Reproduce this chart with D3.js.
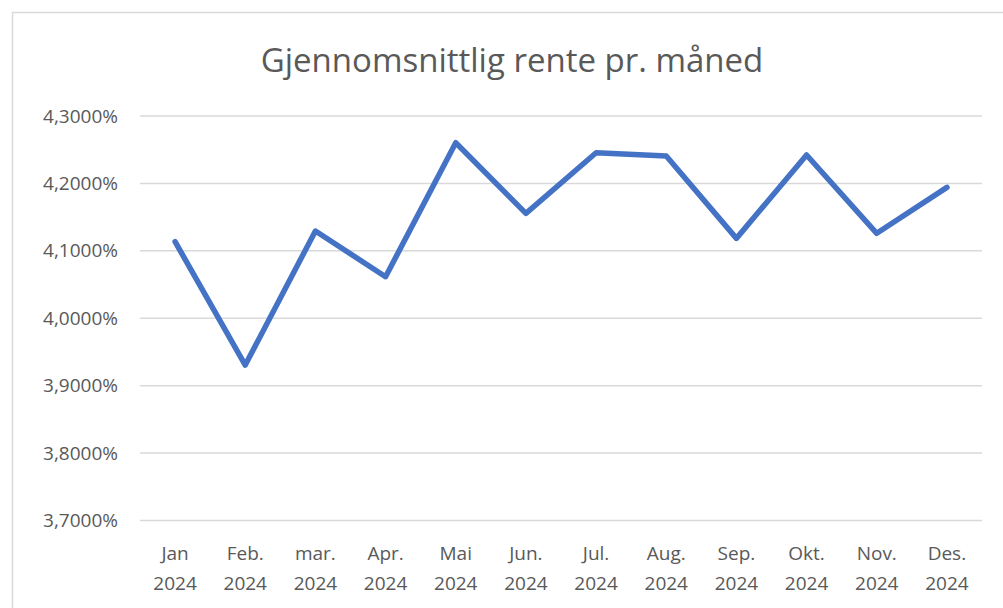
<!DOCTYPE html>
<html>
<head>
<meta charset="utf-8">
<script src="https://cdn.jsdelivr.net/npm/d3@7"></script>
<style>
  html, body { margin: 0; padding: 0; background: #fff; }
  svg { display: block; }
  text { font-family: "Open Sans", Arial, sans-serif; fill: #595959; }
</style>
</head>
<body>
<script>
const title = "Gjennomsnittlig rente pr. måned";
const months = ["Jan", "Feb.", "mar.", "Apr.", "Mai", "Jun.", "Jul.", "Aug.", "Sep.", "Okt.", "Nov.", "Des."];
const years = ["2024", "2024", "2024", "2024", "2024", "2024", "2024", "2024", "2024", "2024", "2024", "2024"];
const rates = [4.1135, 3.9306, 4.1294, 4.0616, 4.2604, 4.1556, 4.2455, 4.2407, 4.1185, 4.2421, 4.1260, 4.1942];
const yTicks = [3.7, 3.8, 3.9, 4.0, 4.1, 4.2, 4.3];

const W = 1003, H = 608;
const svg = d3.select("body").append("svg").attr("width", W).attr("height", H);

// chart border
svg.append("rect").attr("x", 12.5).attr("y", 12.5).attr("width", W + 10).attr("height", H + 10)
  .attr("fill", "#fff").attr("stroke", "#d9d9d9").attr("stroke-width", 1.5);

const mLeft = 140, mRight = 982, mTop = 116, mBottom = 520.5;
const x = d3.scaleBand().domain(months).range([mLeft, mRight]);
const y = d3.scaleLinear().domain([3.7, 4.3]).range([mBottom, mTop]);

// gridlines
svg.append("g").selectAll("line").data(yTicks).join("line")
  .attr("x1", mLeft).attr("x2", mRight)
  .attr("y1", d => y(d)).attr("y2", d => y(d))
  .attr("stroke", "#d9d9d9").attr("stroke-width", 1.5);

// y labels
const fmt = d => d3.format(".4f")(d).replace(".", ",") + "%";
svg.append("g").selectAll("text").data(yTicks).join("text")
  .attr("x", 118).attr("y", d => y(d)).attr("dy", "0.35em")
  .attr("text-anchor", "end").attr("font-size", 19).text(fmt);

// x labels
const xl = svg.append("g").selectAll("text").data(months).join("text")
  .attr("text-anchor", "middle").attr("font-size", 19)
  .attr("x", d => x(d) + x.bandwidth() / 2);
xl.append("tspan").attr("x", d => x(d) + x.bandwidth() / 2).attr("y", 560).text(d => d);
xl.append("tspan").attr("x", d => x(d) + x.bandwidth() / 2).attr("y", 590).text((d, i) => years[i]);

// line
const line = d3.line().x((d, i) => x(months[i]) + x.bandwidth() / 2).y(d => y(d));
svg.append("path").datum(rates).attr("d", line)
  .attr("fill", "none").attr("stroke", "#4472C4").attr("stroke-width", 5.5)
  .attr("stroke-linejoin", "round").attr("stroke-linecap", "round");

// title
svg.append("text").attr("x", 512).attr("y", 72).attr("text-anchor", "middle")
  .attr("font-size", 33).text(title);
</script>
</body>
</html>
